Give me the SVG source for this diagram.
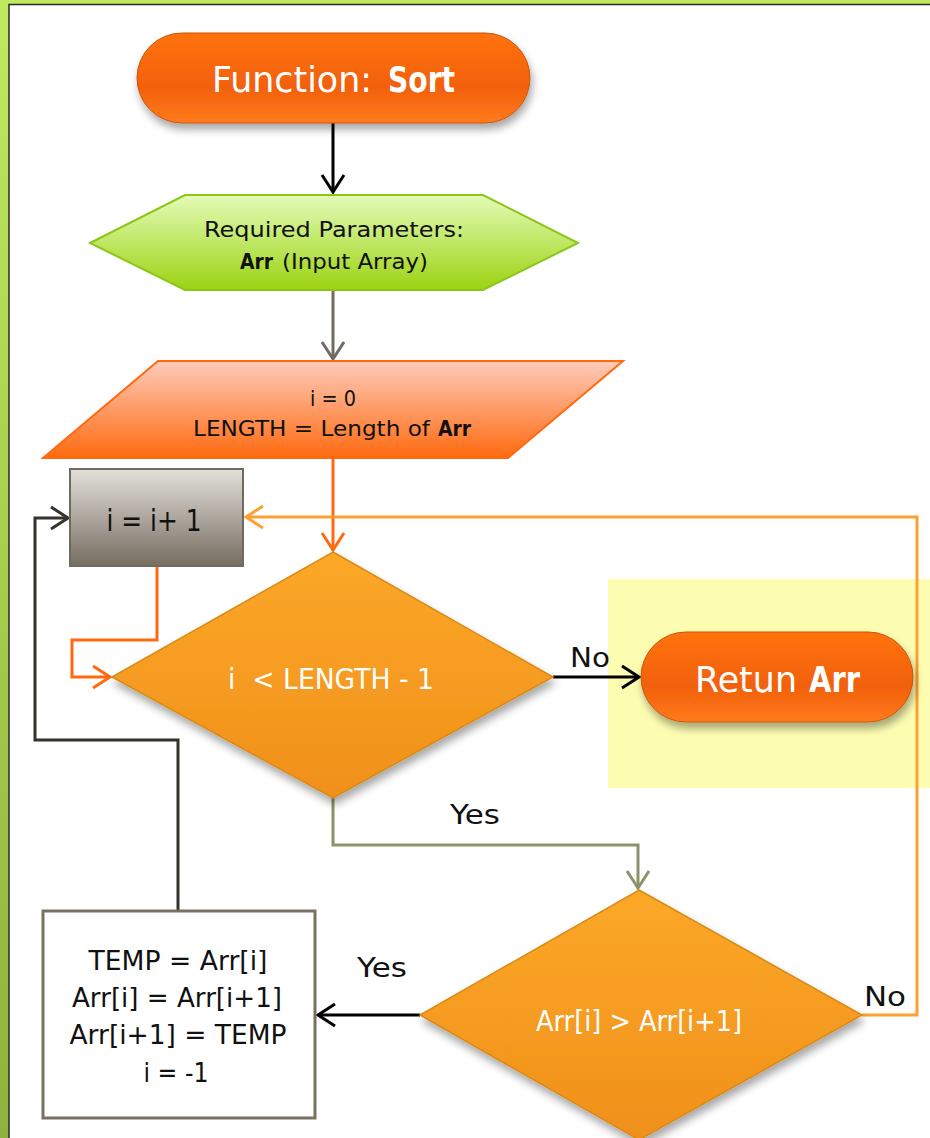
<svg xmlns="http://www.w3.org/2000/svg" width="930" height="1138" viewBox="0 0 930 1138">
  <defs>
    <linearGradient id="frameGreen" x1="0" y1="0" x2="0" y2="1">
      <stop offset="0" stop-color="#bfe95e"/>
      <stop offset="1" stop-color="#8fb23c"/>
    </linearGradient>
    <linearGradient id="pillOrange" x1="0" y1="0" x2="0" y2="1">
      <stop offset="0" stop-color="#ff7310"/>
      <stop offset="0.6" stop-color="#f2600a"/>
      <stop offset="1" stop-color="#ff7a1c"/>
    </linearGradient>
    <linearGradient id="hexGreen" x1="0" y1="0" x2="0" y2="1">
      <stop offset="0" stop-color="#e4fbb8"/>
      <stop offset="1" stop-color="#9bd311"/>
    </linearGradient>
    <linearGradient id="paraSalmon" x1="0" y1="0" x2="0" y2="1">
      <stop offset="0" stop-color="#fdcbbb"/>
      <stop offset="1" stop-color="#ff6a0f"/>
    </linearGradient>
    <linearGradient id="boxGray" x1="0" y1="0" x2="0" y2="1">
      <stop offset="0" stop-color="#e3e0dc"/>
      <stop offset="1" stop-color="#776d60"/>
    </linearGradient>
    <linearGradient id="diamondAmber" x1="0" y1="0" x2="0" y2="1">
      <stop offset="0" stop-color="#fca828"/>
      <stop offset="1" stop-color="#f0901a"/>
    </linearGradient>
    <filter id="softShadow" x="-20%" y="-20%" width="140%" height="150%">
      <feGaussianBlur in="SourceAlpha" stdDeviation="4"/>
      <feOffset dx="2" dy="6" result="off"/>
      <feComponentTransfer><feFuncA type="linear" slope="0.35"/></feComponentTransfer>
      <feMerge><feMergeNode/><feMergeNode in="SourceGraphic"/></feMerge>
    </filter>
    <marker id="arrowBlack" viewBox="0 0 22 26" refX="20" refY="13" markerWidth="22" markerHeight="26" markerUnits="userSpaceOnUse" orient="auto">
      <path d="M3,2 L20,13 L3,24" fill="none" stroke="#000" stroke-width="3"/>
    </marker>
    <marker id="arrowGray" viewBox="0 0 22 26" refX="20" refY="13" markerWidth="22" markerHeight="26" markerUnits="userSpaceOnUse" orient="auto">
      <path d="M3,2 L20,13 L3,24" fill="none" stroke="#6f6a62" stroke-width="3"/>
    </marker>
    <marker id="arrowOrange" viewBox="0 0 22 26" refX="20" refY="13" markerWidth="22" markerHeight="26" markerUnits="userSpaceOnUse" orient="auto">
      <path d="M3,2 L20,13 L3,24" fill="none" stroke="#ff6a10" stroke-width="3"/>
    </marker>
    <marker id="arrowAmber" viewBox="0 0 22 26" refX="20" refY="13" markerWidth="22" markerHeight="26" markerUnits="userSpaceOnUse" orient="auto">
      <path d="M3,2 L20,13 L3,24" fill="none" stroke="#ffa030" stroke-width="3"/>
    </marker>
    <marker id="arrowOlive" viewBox="0 0 22 26" refX="20" refY="13" markerWidth="22" markerHeight="26" markerUnits="userSpaceOnUse" orient="auto">
      <path d="M3,2 L20,13 L3,24" fill="none" stroke="#8a9468" stroke-width="3"/>
    </marker>
    <marker id="arrowDark" viewBox="0 0 22 26" refX="20" refY="13" markerWidth="22" markerHeight="26" markerUnits="userSpaceOnUse" orient="auto">
      <path d="M3,2 L20,13 L3,24" fill="none" stroke="#35332b" stroke-width="3"/>
    </marker>
  </defs>
  <style>
    text { font-family: "DejaVu Sans", "Liberation Sans", sans-serif; text-anchor: middle; }
    .dark { fill: #111; }
    .white { fill: #fff; }
    .b { font-weight: bold; }
    .s { text-anchor: start; }
    .pre { white-space: pre; }
    .link { fill: none; stroke-width: 3; }
  </style>

  <!-- page frame -->
  <rect x="0" y="0" width="930" height="1138" fill="url(#frameGreen)"/>
  <rect x="9" y="4.5" width="925" height="1140" fill="#fff" stroke="#2a2a2a" stroke-width="1.5"/>

  <!-- highlight behind the return node -->
  <rect x="608" y="579" width="322" height="209" fill="#fdfdb2"/>

  <!-- connectors -->
  <g id="connectors">
    <line class="link" x1="333" y1="123" x2="333" y2="192" stroke="#000" marker-end="url(#arrowBlack)"/>
    <line class="link" x1="333" y1="290" x2="333" y2="359" stroke="#6f6a62" marker-end="url(#arrowGray)"/>
    <line class="link" x1="333" y1="458" x2="333" y2="550" stroke="#ff6a10" marker-end="url(#arrowOrange)"/>
    <polyline class="link" points="157,567 157,640 72,640 72,677 110,677" stroke="#ff6a10" marker-end="url(#arrowOrange)"/>
    <line class="link" x1="553" y1="677" x2="639" y2="677" stroke="#000" marker-end="url(#arrowBlack)"/>
    <polyline class="link" points="333,798 333,845 638,845 638,888" stroke="#8a9468" marker-end="url(#arrowOlive)"/>
    <polyline class="link" points="862,1015 917,1015 917,517 246,517" stroke="#ffa030" marker-end="url(#arrowAmber)"/>
    <line class="link" x1="420" y1="1015" x2="318" y2="1015" stroke="#000" marker-end="url(#arrowBlack)"/>
    <polyline class="link" points="178,910 178,740 35,740 35,518 68,518" stroke="#35332b" marker-end="url(#arrowDark)"/>
    <text class="dark" x="590" y="667" font-size="26" textLength="40" lengthAdjust="spacingAndGlyphs">No</text>
    <text class="dark" x="475" y="824" font-size="26" textLength="50" lengthAdjust="spacingAndGlyphs">Yes</text>
    <text class="dark" x="382" y="977" font-size="26" textLength="50" lengthAdjust="spacingAndGlyphs">Yes</text>
    <text class="dark" x="885" y="1006" font-size="26" textLength="42" lengthAdjust="spacingAndGlyphs">No</text>
  </g>

  <!-- start terminal -->
  <g id="start">
    <rect x="137" y="33" width="393" height="90" rx="45" fill="url(#pillOrange)" stroke="#c8560c" stroke-width="1" filter="url(#softShadow)"/>
    <text class="white s" x="212" y="92" font-size="36" textLength="160" lengthAdjust="spacingAndGlyphs">Function:</text>
    <text class="white s b" x="388" y="92" font-size="36" textLength="67" lengthAdjust="spacingAndGlyphs">Sort</text>
  </g>

  <!-- parameters -->
  <g id="params">
    <polygon points="90,243 185,195 483,195 578,243 483,290 185,290" fill="url(#hexGreen)" stroke="#8cc61a" stroke-width="2"/>
    <text class="dark" x="334" y="237" font-size="22" textLength="260" lengthAdjust="spacingAndGlyphs">Required Parameters:</text>
    <text class="dark s b" x="240" y="269" font-size="22" textLength="33" lengthAdjust="spacingAndGlyphs">Arr</text>
    <text class="dark s" x="282" y="269" font-size="22" textLength="146" lengthAdjust="spacingAndGlyphs">(Input Array)</text>
  </g>

  <!-- initialisation -->
  <g id="init">
    <polygon points="158,361 623,361 508,458 43,458" fill="url(#paraSalmon)" stroke="#ff6a10" stroke-width="2"/>
    <text class="dark" x="333" y="406" font-size="22" textLength="46" lengthAdjust="spacingAndGlyphs">i = 0</text>
    <text class="dark s" x="193" y="436" font-size="22" textLength="237" lengthAdjust="spacingAndGlyphs">LENGTH = Length of</text>
    <text class="dark s b" x="438" y="436" font-size="22" textLength="33" lengthAdjust="spacingAndGlyphs">Arr</text>
  </g>

  <!-- increment -->
  <g id="increment">
    <rect x="70" y="469" width="173" height="97" fill="url(#boxGray)" stroke="#6f6a60" stroke-width="2"/>
    <text class="dark" x="154" y="531" font-size="30" textLength="95" lengthAdjust="spacingAndGlyphs">i = i+ 1</text>
  </g>

  <!-- loop condition -->
  <g id="loopCheck">
    <polygon points="333,552 553,677 333,798 112,677" fill="url(#diamondAmber)" stroke="#d98a16" stroke-width="1.5" filter="url(#softShadow)"/>
    <text class="white pre" x="331" y="689" font-size="28" textLength="206" lengthAdjust="spacingAndGlyphs">i  &lt; LENGTH - 1</text>
  </g>

  <!-- return terminal -->
  <g id="return">
    <rect x="641" y="632" width="272" height="90" rx="45" fill="url(#pillOrange)" stroke="#c8560c" stroke-width="1" filter="url(#softShadow)"/>
    <text class="white s" x="695" y="692" font-size="35" textLength="102" lengthAdjust="spacingAndGlyphs">Retun</text>
    <text class="white s b" x="809" y="692" font-size="35" textLength="51" lengthAdjust="spacingAndGlyphs">Arr</text>
  </g>

  <!-- comparison -->
  <g id="compare">
    <polygon points="639,890 862,1015 639,1140 420,1015" fill="url(#diamondAmber)" stroke="#d98a16" stroke-width="1.5" filter="url(#softShadow)"/>
    <text class="white" x="639" y="1031" font-size="28" textLength="206" lengthAdjust="spacingAndGlyphs">Arr[i] &gt; Arr[i+1]</text>
  </g>

  <!-- swap -->
  <g id="swap">
    <rect x="43" y="911" width="272" height="207" fill="#fff" stroke="#7a7062" stroke-width="3"/>
    <text class="dark" x="178" y="970" font-size="26" textLength="179" lengthAdjust="spacingAndGlyphs">TEMP = Arr[i]</text>
    <text class="dark" x="177" y="1007" font-size="26" textLength="210" lengthAdjust="spacingAndGlyphs">Arr[i] = Arr[i+1]</text>
    <text class="dark" x="178" y="1044" font-size="26" textLength="217" lengthAdjust="spacingAndGlyphs">Arr[i+1] = TEMP</text>
    <text class="dark" x="176" y="1082" font-size="26" textLength="65" lengthAdjust="spacingAndGlyphs">i = -1</text>
  </g>
</svg>
